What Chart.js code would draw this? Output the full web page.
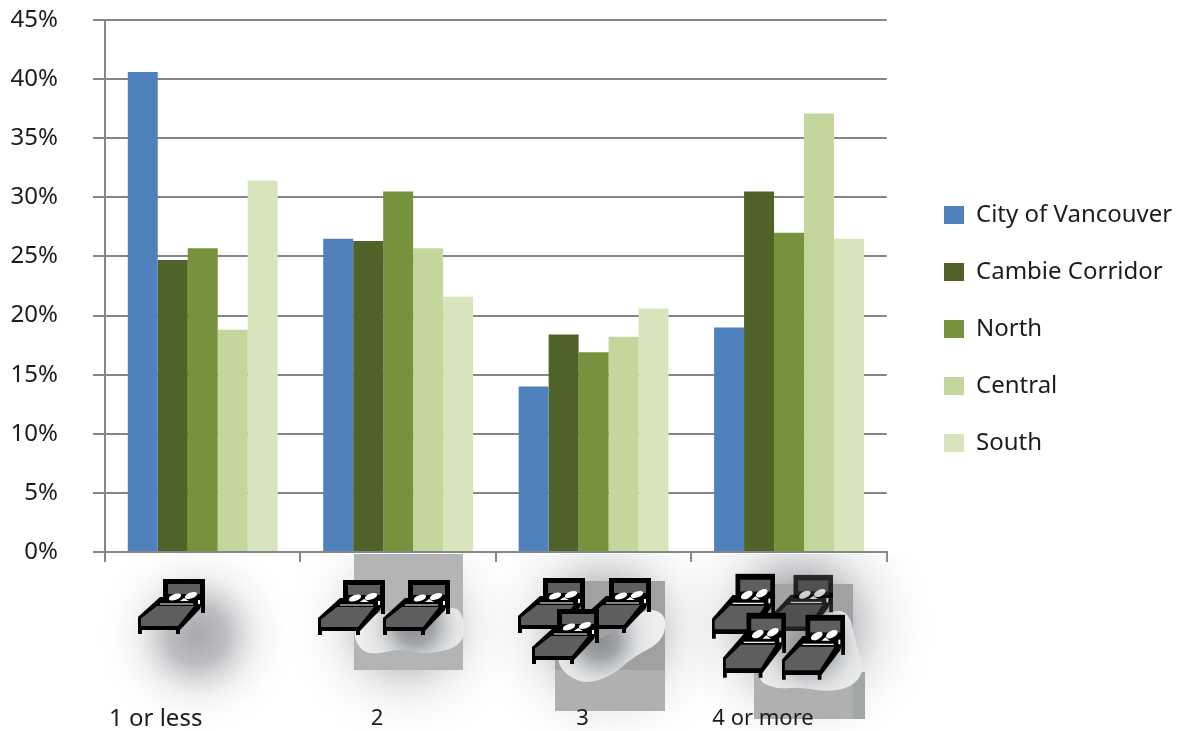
<!DOCTYPE html>
<html>
<head>
<meta charset="utf-8">
<title>Bedrooms by area</title>
<script src="https://cdn.jsdelivr.net/npm/chart.js@4/dist/chart.umd.js"></script>
<style>
html, body { margin: 0; padding: 0; background: #fff; }
canvas { display: block; }
</style>
</head>
<body>
<canvas id="bedrooms-chart" width="1181" height="731"></canvas>
<script>
const categories = ['1 or less', '2', '3', '4 or more'];
const vancouver = [40.6, 26.5, 14, 19];
const cambie = [24.7, 26.3, 18.4, 30.5];
const north = [25.7, 30.5, 16.9, 27];
const central = [18.8, 25.7, 18.2, 37.1];
const south = [31.4, 21.6, 20.6, 26.5];
const yMax = 45;
const yStep = 5;

const textColor = '#1c1c1c';
const axisColor = '#868686';
const fontName = '"Noto Sans", sans-serif';

// the category captions are not centred under the groups in the original
const captionShift = [-47, -21, -11, -26];
const captionY = 719;

// bed icon, drawn in a 67x54 box
function drawBed(ctx, x, y, sx = 1, sy = 1, faded = false) {
    ctx.save();
    ctx.translate(x, y);
    ctx.scale(sx, sy);
    if (faded) ctx.globalAlpha = 0.8;
    ctx.fillStyle = '#000';
    ctx.fillRect(25, -1, 42, 21);
    ctx.fillRect(63, 15, 4, 18);
    ctx.fillStyle = '#5e5e5e';
    ctx.fillRect(30, 4, 32, 10);
    // frame
    ctx.fillStyle = '#000';
    ctx.beginPath();
    ctx.moveTo(0, 37);
    ctx.lineTo(22, 17);
    ctx.lineTo(66, 17);
    ctx.lineTo(62, 29);
    ctx.lineTo(42, 50);
    ctx.lineTo(0, 50);
    ctx.closePath();
    ctx.fill();
    ctx.fillRect(0, 47, 4, 7);
    ctx.fillRect(38, 47, 4, 7);
    // mattress
    ctx.fillStyle = '#5e5e5e';
    ctx.beginPath();
    ctx.moveTo(3, 38.5);
    ctx.lineTo(19, 26);
    ctx.lineTo(56, 26);
    ctx.lineTo(40, 46);
    ctx.lineTo(3, 46);
    ctx.closePath();
    ctx.fill();
    // pillows and sheet
    ctx.fillStyle = '#fff';
    [[37, 17], [53, 15.5]].forEach(([px, py]) => {
        ctx.beginPath();
        ctx.ellipse(px, py, 6.5, 3, -0.35, 0, Math.PI * 2);
        ctx.fill();
    });
    ctx.fillRect(22, 23.5, 33, 1);
    ctx.beginPath();
    ctx.moveTo(46, 18);
    ctx.lineTo(51, 21);
    ctx.lineTo(42, 21);
    ctx.closePath();
    ctx.fill();
    ctx.fillRect(60, 20, 2, 4);
    ctx.restore();
}

function softShadow(ctx, cx, cy, r, alpha) {
    const g = ctx.createRadialGradient(cx, cy, 0, cx, cy, r);
    g.addColorStop(0, `rgba(120,123,128,${alpha})`);
    g.addColorStop(0.3, `rgba(125,128,133,${alpha * 0.8})`);
    g.addColorStop(0.65, `rgba(170,175,180,${alpha * 0.25})`);
    g.addColorStop(1, 'rgba(220,225,230,0)');
    ctx.fillStyle = g;
    ctx.fillRect(cx - r, cy - r, r * 2, r * 2);
}

function blobPath(ctx, pts) {
    ctx.beginPath();
    const n = pts.length;
    ctx.moveTo((pts[n - 1][0] + pts[0][0]) / 2, (pts[n - 1][1] + pts[0][1]) / 2);
    pts.forEach(([x, y], i) => {
        const [nx, ny] = pts[(i + 1) % n];
        ctx.quadraticCurveTo(x, y, (x + nx) / 2, (y + ny) / 2);
    });
    ctx.closePath();
}

function blob(ctx, pts, cx, cy, r) {
    ctx.save();
    blobPath(ctx, pts);
    ctx.fillStyle = '#eeefef';
    ctx.fill();
    ctx.clip();
    softShadow(ctx, cx, cy, r, 0.85);
    ctx.restore();
}

const decorationPlugin = {
    id: 'decoration',
    afterDraw(chart) {
        const ctx = chart.ctx;
        const xScale = chart.scales.x;

        // shadows under the beds, kept below the axis
        ctx.save();
        ctx.beginPath();
        ctx.rect(0, 554, chart.width, chart.height - 554);
        ctx.clip();
        softShadow(ctx, 197, 635, 95, 0.65);
        softShadow(ctx, 405, 625, 115, 0.6);
        softShadow(ctx, 605, 630, 125, 0.7);
        softShadow(ctx, 800, 625, 130, 0.8);
        ctx.restore();

        // grey patches
        ctx.fillStyle = '#b2b4b6';
        ctx.fillRect(354, 554, 109, 116);
        ctx.fillStyle = '#9fa1a3';
        ctx.fillRect(555, 581, 110, 89);
        ctx.fillStyle = '#aeb0b2';
        ctx.fillRect(555, 670, 110, 41);
        ctx.fillStyle = '#a0a2a4';
        ctx.fillRect(760, 584, 93, 88);
        ctx.fillStyle = '#aeb0b2';
        ctx.fillRect(754, 672, 99, 47);
        ctx.fillStyle = '#a3a6a6';
        ctx.fillRect(853, 672, 12, 47);

        blob(ctx, [[354, 640], [367, 656], [403, 648], [427, 655], [465, 645], [463, 612], [450, 606], [383, 610], [355, 625]], 415, 625, 62);
        blob(ctx, [[556, 660], [567, 676], [587, 684], [613, 675], [633, 657], [662, 642], [667, 620], [657, 609], [640, 612], [600, 640], [567, 650]], 600, 640, 62);
        blob(ctx, [[760, 682], [777, 689], [800, 687], [827, 692], [852, 687], [865, 670], [855, 640], [849, 612], [830, 610], [767, 640], [760, 673]], 810, 645, 70);

        drawBed(ctx, 138, 580);
        drawBed(ctx, 318, 581);
        drawBed(ctx, 383, 581);
        drawBed(ctx, 518, 579);
        drawBed(ctx, 584, 579);
        drawBed(ctx, 532, 610);
        drawBed(ctx, 712, 575, 0.94, 1.18);
        drawBed(ctx, 770, 576, 0.94, 1.1, true);
        drawBed(ctx, 723, 614, 0.94, 1.18);
        drawBed(ctx, 782, 616, 0.94, 1.18);

        // category captions
        ctx.save();
        ctx.fillStyle = textColor;
        ctx.textBaseline = 'middle';
        ctx.textAlign = 'center';
        categories.forEach((label, i) => {
            ctx.font = (i === 0 ? '24px ' : '22px ') + fontName;
            ctx.fillText(label, xScale.getPixelForValue(i) + captionShift[i], captionY);
        });
        ctx.restore();
    }
};

// puts the legend box where it sits in the original
const legendPlacePlugin = {
    id: 'legendPlace',
    afterLayout(chart) {
        const legend = chart.legend;
        const w = legend.width, h = legend.height;
        legend.left = 911;
        legend.right = legend.left + w;
        legend.top = 170;
        legend.bottom = legend.top + h;
    }
};

function makeSeries(label, data, color) {
    return {
        label,
        data,
        backgroundColor: color,
        borderWidth: 0,
        categoryPercentage: 0.767,
        barPercentage: 1
    };
}

const chart = new Chart(document.getElementById('bedrooms-chart'), {
    type: 'bar',
    plugins: [decorationPlugin, legendPlacePlugin],
    data: {
        labels: categories,
        datasets: [
            makeSeries('City of Vancouver', vancouver, '#4f81bd'),
            makeSeries('Cambie Corridor', cambie, '#4f6228'),
            makeSeries('North', north, '#76923c'),
            makeSeries('Central', central, '#c3d69b'),
            makeSeries('South', south, '#d8e4bc')
        ]
    },
    options: {
        responsive: false,
        animation: false,
        layout: { padding: { left: 10, top: 20, right: 23, bottom: 169 } },
        plugins: {
            tooltip: { enabled: false },
            legend: {
                position: 'right',
                align: 'start',
                labels: {
                    boxWidth: 20,
                    boxHeight: 18,
                    padding: 33,
                    color: textColor,
                    font: { family: fontName, size: 24 }
                }
            }
        },
        scales: {
            x: {
                grid: { drawOnChartArea: false, color: axisColor, lineWidth: 2, tickLength: 10, offset: true },
                border: { color: axisColor, width: 2 },
                ticks: { display: false }
            },
            y: {
                min: 0,
                max: yMax,
                grid: { color: axisColor, lineWidth: 2, tickLength: 12 },
                border: { color: axisColor, width: 2 },
                ticks: {
                    stepSize: yStep,
                    padding: 35,
                    color: textColor,
                    font: { family: fontName, size: 24 },
                    callback: value => value + '%'
                },
                afterFit(scale) {
                    scale.width = 95;
                    scale.paddingTop = 0;
                    scale.paddingBottom = 0;
                }
            }
        }
    }
});
</script>
</body>
</html>
